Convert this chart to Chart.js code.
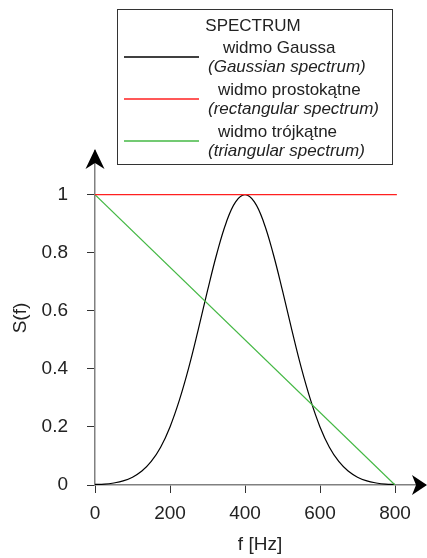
<!DOCTYPE html>
<html lang="pl">
<head>
  <meta charset="UTF-8">
  <title>Spectrum</title>
  <script src="https://cdn.jsdelivr.net/npm/chart.js"></script>
  <style>
    html, body { margin: 0; padding: 0; background: #fff; }
    #wrap { width: 427px; height: 558px; }
  </style>
</head>
<body>
  <div id="wrap"><canvas id="spectrumChart" width="427" height="558"></canvas></div>
  <script>
    // dane
    const freq = [0, 25, 50, 75, 100, 125, 150, 175, 200, 225, 250, 275, 300, 325, 350, 375, 400,
                  425, 450, 475, 500, 525, 550, 575, 600, 625, 650, 675, 700, 725, 750, 775, 800];
    const gauss = [0.002, 0.003, 0.007, 0.014, 0.027, 0.048, 0.081, 0.13, 0.20, 0.292, 0.404, 0.533, 0.669, 0.797, 0.904, 0.975, 1.00,
                   0.975, 0.904, 0.797, 0.669, 0.533, 0.404, 0.292, 0.20, 0.13, 0.081, 0.048, 0.027, 0.014, 0.007, 0.003, 0.002];
    const rectFreq = [0, 805];
    const rectVal = [1, 1];
    const triFreq = [0, 800];
    const triVal = [1, 0];
    const xTicks = [0, 200, 400, 600, 800];
    const yTicks = [0, 0.2, 0.4, 0.6, 0.8, 1];
    const legendTitle = "SPECTRUM";
    const seriesNames = ["widmo Gaussa", "widmo prostokątne", "widmo trójkątne"];
    const seriesNamesEn = ["(Gaussian spectrum)", "(rectangular spectrum)", "(triangular spectrum)"];
    const seriesColors = ["#000000", "#ff2020", "#44b844"];

    const FONT = "'Liberation Sans', Arial, sans-serif";

    function pts(xs, ys) {
      return xs.map((x, i) => ({ x: x, y: ys[i] }));
    }

    // strzałki na końcach osi
    const arrowPlugin = {
      id: "arrows",
      afterDraw(chart) {
        const ctx = chart.ctx;
        const a = chart.chartArea;
        ctx.save();
        ctx.fillStyle = "#000";
        ctx.beginPath();
        ctx.moveTo(a.right + 2, a.bottom);
        ctx.lineTo(a.right - 13, a.bottom - 10);
        ctx.lineTo(a.right - 9, a.bottom);
        ctx.lineTo(a.right - 13, a.bottom + 10);
        ctx.closePath();
        ctx.fill();
        ctx.beginPath();
        ctx.moveTo(a.left, a.top - 2);
        ctx.lineTo(a.left - 9.5, a.top + 18);
        ctx.lineTo(a.left, a.top + 12);
        ctx.lineTo(a.left + 9.5, a.top + 18);
        ctx.closePath();
        ctx.fill();
        ctx.restore();
      }
    };

    // legenda w ramce
    const boxLegend = {
      id: "boxLegend",
      afterDraw(chart) {
        const ctx = chart.ctx;
        ctx.save();
        ctx.strokeStyle = "#333";
        ctx.lineWidth = 1;
        ctx.strokeRect(117.5, 9.5, 275, 155);
        ctx.fillStyle = "#222";
        ctx.textBaseline = "middle";
        ctx.textAlign = "center";
        ctx.font = "17px " + FONT;
        ctx.fillText(legendTitle, 253, 26);
        ctx.textAlign = "left";
        seriesNames.forEach((name, i) => {
          const ly = 57 + i * 42;
          ctx.strokeStyle = seriesColors[i];
          ctx.lineWidth = 1.5;
          ctx.beginPath();
          ctx.moveTo(124, ly);
          ctx.lineTo(199, ly);
          ctx.stroke();
          ctx.font = "17px " + FONT;
          ctx.fillText(name, i === 0 ? 223 : 218, ly - 9);
          ctx.font = "italic 17px " + FONT;
          ctx.fillText(seriesNamesEn[i], 208, ly + 10);
        });
        ctx.restore();
      }
    };

    function createSpectrumChart() {
      const ctx = document.getElementById("spectrumChart").getContext("2d");
      new Chart(ctx, {
        type: "scatter",
        data: {
          datasets: [
            {
              label: seriesNames[1],
              data: pts(rectFreq, rectVal),
              borderColor: seriesColors[1],
              borderWidth: 1.2,
              showLine: true,
              pointRadius: 0
            },
            {
              label: seriesNames[2],
              data: pts(triFreq, triVal),
              borderColor: seriesColors[2],
              borderWidth: 1.2,
              showLine: true,
              pointRadius: 0
            },
            {
              label: seriesNames[0],
              data: pts(freq, gauss),
              borderColor: seriesColors[0],
              borderWidth: 1.2,
              showLine: true,
              tension: 0.4,
              pointRadius: 0
            }
          ]
        },
        options: {
          responsive: false,
          animation: false,
          layout: { padding: { top: 151, right: 2, left: 0, bottom: 0 } },
          plugins: {
            legend: { display: false },
            tooltip: { enabled: false }
          },
          scales: {
            x: {
              type: "linear",
              min: 0,
              max: 880,
              afterFit(scale) { scale.height = 73; },
              afterBuildTicks(scale) { scale.ticks = xTicks.map(v => ({ value: v })); },
              border: { display: true, color: "#808080", width: 1.5 },
              grid: { drawOnChartArea: false, drawTicks: true, tickLength: 8, color: "#333" },
              ticks: { color: "#222", padding: 9, maxRotation: 0, font: { family: FONT, size: 19 } },
              title: {
                display: true,
                text: "f [Hz]",
                color: "#222",
                padding: { top: 0, bottom: 2 },
                font: { family: FONT, size: 19 }
              }
            },
            y: {
              type: "linear",
              min: 0,
              max: 1.15,
              afterFit(scale) { scale.width = 95; },
              afterBuildTicks(scale) { scale.ticks = yTicks.map(v => ({ value: v })); },
              border: { display: true, color: "#808080", width: 1.5 },
              grid: { drawOnChartArea: false, drawTicks: true, tickLength: 8, color: "#333" },
              ticks: {
                color: "#222",
                padding: 19,
                font: { family: FONT, size: 19 },
                callback: (v) => String(v)
              },
              title: {
                display: true,
                text: "S(f)",
                color: "#222",
                padding: { top: 9, bottom: 0 },
                font: { family: FONT, size: 19 }
              }
            }
          }
        },
        plugins: [arrowPlugin, boxLegend]
      });
    }

    document.addEventListener("DOMContentLoaded", () => {
      createSpectrumChart();
    });
  </script>
</body>
</html>
